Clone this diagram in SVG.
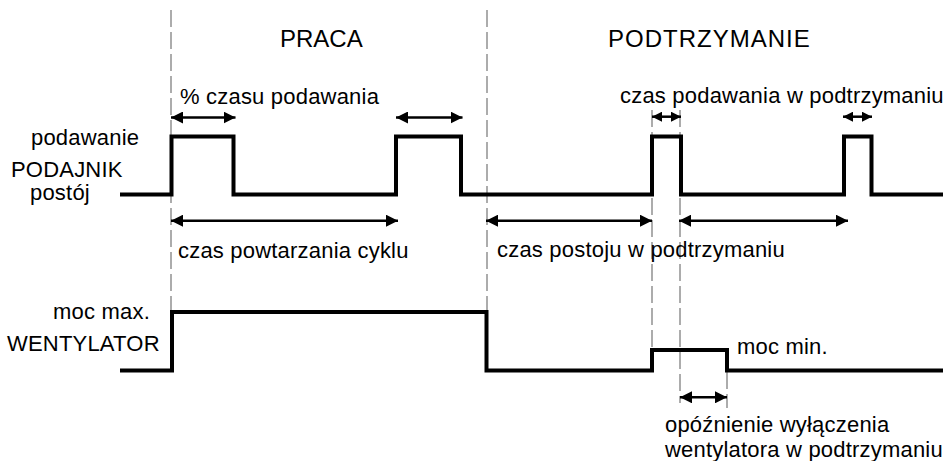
<svg xmlns="http://www.w3.org/2000/svg" width="948" height="461" viewBox="0 0 948 461">
<style>
text{font-family:"Liberation Sans",Arial,sans-serif;font-size:22px;fill:#000;letter-spacing:0.2px}
.title{font-size:24px;letter-spacing:0}
.wide{letter-spacing:1px}
.sig{fill:none;stroke:#000;stroke-width:4;stroke-linejoin:miter}
.dash{stroke:#808080;stroke-width:1.3;stroke-dasharray:17 5;fill:none}
.arr{stroke:#000;stroke-width:2.5;fill:none;marker-start:url(#ah);marker-end:url(#ah)}
.arrs{stroke:#000;stroke-width:2.5;fill:none;marker-start:url(#ahs);marker-end:url(#ahs)}
</style>
<defs>
<marker id="ah" markerUnits="userSpaceOnUse" viewBox="0 0 12 12" markerWidth="12" markerHeight="12" refX="12" refY="6" orient="auto-start-reverse"><path d="M0,0 L12,6 L0,12 Z" fill="#000"/></marker>
<marker id="ahs" markerUnits="userSpaceOnUse" viewBox="0 0 10 10" markerWidth="10" markerHeight="10" refX="10" refY="5" orient="auto-start-reverse"><path d="M0,0 L10,5 L0,10 Z" fill="#000"/></marker>
</defs>
<g id="guides">
<line class="dash" x1="171" y1="10" x2="171" y2="312"/>
<line class="dash" x1="487" y1="10" x2="487" y2="312"/>
<line class="dash" x1="652" y1="110" x2="652" y2="350"/>
<line class="dash" x1="680" y1="110" x2="680" y2="403"/>
<line class="dash" x1="727" y1="372" x2="727" y2="408"/>
</g>
<g id="titles">
<text class="title" x="280" y="46.7">PRACA</text>
<text class="title wide" x="608" y="46.7">PODTRZYMANIE</text>
</g>
<g id="podajnik">
<text x="31" y="145">podawanie</text>
<text x="11" y="176.5">PODAJNIK</text>
<text x="30" y="199.5">postój</text>
<path class="sig" d="M120,194.5 H171.5 V136.5 H233.5 V194.5 H396 V136.5 H461 V194.5 H652 V136.5 H681 V194.5 H844 V136.5 H871.5 V194.5 H943"/>
</g>
<g id="wentylator">
<text x="53" y="319">moc max.</text>
<text x="7" y="351">WENTYLATOR</text>
<text x="737" y="354">moc min.</text>
<path class="sig" d="M120,370.5 H172 V312 H486.5 V370.5 H652 V350 H727 V370.5 H943"/>
</g>
<g id="connectors">
<line class="arr" x1="171" y1="117.5" x2="235.5" y2="117.5"/>
<line class="arr" x1="396" y1="117.5" x2="462.5" y2="117.5"/>
<line class="arrs" x1="652" y1="116.7" x2="681" y2="116.7"/>
<line class="arrs" x1="843" y1="116.7" x2="872" y2="116.7"/>
<line class="arr" x1="171" y1="220.7" x2="398" y2="220.7"/>
<line class="arr" x1="486" y1="220.7" x2="652" y2="220.7"/>
<line class="arr" x1="679" y1="220.7" x2="848" y2="220.7"/>
<line class="arr" x1="680" y1="397.3" x2="727" y2="397.3"/>
</g>
<g id="labels">
<text x="180" y="104">% czasu podawania</text>
<text x="620" y="102.7">czas podawania w podtrzymaniu</text>
<text x="178" y="258.3">czas powtarzania cyklu</text>
<text x="497" y="257.3">czas postoju w podtrzymaniu</text>
<text x="665" y="431.7">opóźnienie wyłączenia</text>
<text x="665" y="456.5">wentylatora w podtrzymaniu</text>
</g>
</svg>
